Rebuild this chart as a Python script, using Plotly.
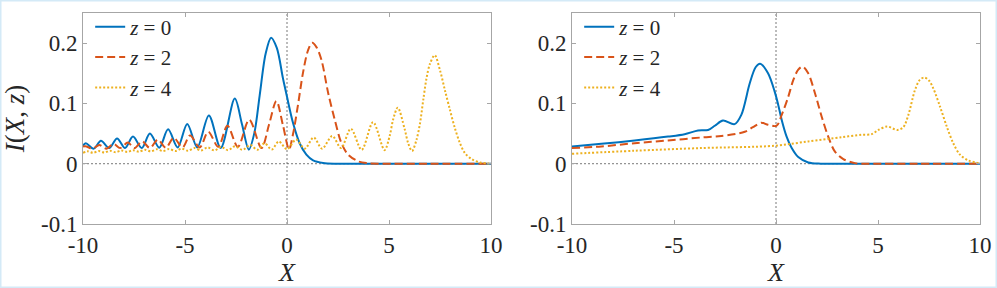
import plotly.graph_objects as go

# ---------------- data ----------------
# Left panel
L_z0_x = [-10.0, -9.86, -9.48, -9.12, -8.72, -8.33, -7.94, -7.55, -7.12, -6.72, -6.26, -5.83,
          -5.36, -4.89, -4.40, -3.83, -3.25, -2.56, -2.21, -1.87, -1.60, -1.34, -1.05, -0.78,
          -0.50, -0.20, 0.0, 0.30, 0.62, 0.95, 1.28, 1.77, 2.4, 3.5, 6.0, 10.0]
L_z0_y = [0.030, 0.034, 0.025, 0.038, 0.026, 0.042, 0.026, 0.045, 0.026, 0.050, 0.0265, 0.057,
          0.027, 0.066, 0.027, 0.080, 0.026, 0.108, 0.066, 0.0235, 0.051, 0.113, 0.182, 0.209,
          0.192, 0.142, 0.111, 0.067, 0.034, 0.015, 0.0055, 0.0012, 0.0, 0.0, 0.0, 0.0]

L_z2_x = [-10.0, -9.88, -9.52, -9.2, -8.85, -8.5, -8.18, -7.8, -7.48, -7.1, -6.72, -6.33,
          -5.94, -5.55, -5.12, -4.75, -4.28, -3.86, -3.37, -2.92, -2.41, -1.85, -1.25, -0.88,
          -0.52, -0.20, 0.10, 0.30, 0.54, 0.79, 1.03, 1.23, 1.45, 1.69, 2.02, 2.34, 2.67,
          3.00, 3.49, 3.90, 4.6, 7.0, 10.0]
L_z2_y = [0.0285, 0.029, 0.025, 0.031, 0.025, 0.033, 0.026, 0.035, 0.026, 0.037, 0.026, 0.040,
          0.0265, 0.043, 0.027, 0.047, 0.027, 0.053, 0.028, 0.063, 0.028, 0.073, 0.026, 0.065,
          0.104, 0.064, 0.024, 0.050, 0.098, 0.152, 0.188, 0.2005, 0.193, 0.172, 0.117, 0.073, 0.034,
          0.015, 0.004, 0.001, 0.0, 0.0, 0.0]

L_z4_x = [-10.0, -9.77, -9.5, -9.23, -8.95, -8.68, -8.4, -8.12, -7.83, -7.55, -7.26, -6.97,
          -6.67, -6.38, -6.08, -5.78, -5.47, -5.16, -4.85, -4.53, -4.21, -3.89, -3.56, -3.23,
          -2.89, -2.55, -2.18, -1.80, -1.45, -1.10, -0.75, -0.40, 0.0, 0.45, 0.87, 1.31, 1.72,
          2.22, 2.65, 3.13, 3.66, 4.22, 4.78, 5.04, 5.20, 5.43, 5.77, 5.94, 6.13, 6.35, 6.52,
          6.68, 6.84, 7.01, 7.24, 7.50, 7.74, 7.99, 8.23, 8.48, 8.72, 9.05, 9.46, 9.8, 10.0]
L_z4_y = [0.018, 0.0205, 0.018, 0.021, 0.0185, 0.0215, 0.019, 0.022, 0.0195, 0.0225, 0.020, 0.023,
          0.0205, 0.024, 0.021, 0.0245, 0.021, 0.025, 0.0215, 0.026, 0.022, 0.027, 0.022, 0.028,
          0.0225, 0.029, 0.023, 0.031, 0.023, 0.034, 0.0235, 0.037, 0.024, 0.040, 0.025, 0.0435, 0.025,
          0.046, 0.026, 0.058, 0.023, 0.069, 0.0225, 0.047, 0.073, 0.093, 0.057, 0.034, 0.021, 0.040, 0.067,
          0.106, 0.142, 0.166, 0.180, 0.155, 0.122, 0.089, 0.059, 0.034, 0.0176, 0.0077, 0.002, 0.0005, 0.0]

# Right panel
R_z0_x = [-10.0, -8.56, -6.93, -5.29, -4.48, -3.82, -3.33, -3.0, -2.60, -2.03, -1.70, -1.29, -1.0,
          -0.78, -0.39, -0.05, 0.11, 0.28, 0.52, 0.77, 1.09, 1.58, 2.2, 3.5, 6.0, 10.0]
R_z0_y = [0.0286, 0.033, 0.0385, 0.045, 0.049, 0.055, 0.056, 0.063, 0.0716, 0.0656, 0.081, 0.133, 0.160,
          0.166, 0.150, 0.118, 0.0975, 0.0727, 0.045, 0.026, 0.011, 0.002, 0.0, 0.0, 0.0, 0.0]

R_z2_x = [-10.0, -8.56, -6.93, -5.29, -3.66, -2.68, -1.53, -1.13, -0.72, -0.39, 0.03, 0.28, 0.60,
          0.85, 1.09, 1.30, 1.58, 1.91, 2.24, 2.56, 2.89, 3.30, 3.87, 4.6, 7.0, 10.0]
R_z2_y = [0.026, 0.0286, 0.034, 0.0385, 0.0435, 0.046, 0.053, 0.0606, 0.068, 0.0645, 0.063, 0.081, 0.111,
          0.139, 0.156, 0.161, 0.150, 0.117, 0.078, 0.045, 0.020, 0.0077, 0.001, 0.0, 0.0, 0.0]

R_z4_x = [-10.0, -6.93, -3.66, -0.05, 1.58, 3.22, 4.20, 4.69, 5.02, 5.45, 5.95, 6.24, 6.49,
          6.81, 7.05, 7.27, 7.50, 7.71, 8.04, 8.37, 8.69, 9.02, 9.43, 9.92, 10.0]
R_z4_y = [0.0165, 0.0215, 0.026, 0.0298, 0.037, 0.044, 0.048, 0.049, 0.056, 0.0617, 0.056, 0.0606, 0.081,
          0.122, 0.139, 0.143, 0.138, 0.125, 0.0948, 0.0617, 0.034, 0.015, 0.0055, 0.001, 0.0005]

series_names = ["<i>z</i> = 0", "<i>z</i> = 2", "<i>z</i> = 4"]
x_ticks = [-10, -5, 0, 5, 10]
x_ticktext = ["-10", "-5", "0", "5", "10"]
y_ticks = [-0.1, 0, 0.1, 0.2]
y_ticktext = ["-0.1", "0", "0.1", "0.2"]

# ---------------- styling ----------------
COLORS = ["#0072BD", "#D95319", "#EDB120"]
DASHES = ["solid", "8px,4px", "2px,2px"]
WIDTHS = [2.0, 2.0, 2.0]
FONT = "Liberation Serif"
TXT = "#262626"
AX = "#a6a6a6"

W, H = 997, 288
ML, MR, MT, MB = 83, 17, 13, 64
PW, PH = W - ML - MR, H - MT - MB

fig = go.Figure()

panels = [
    ("x", "y", "legend", [(L_z0_x, L_z0_y), (L_z2_x, L_z2_y), (L_z4_x, L_z4_y)]),
    ("x2", "y2", "legend2", [(R_z0_x, R_z0_y), (R_z2_x, R_z2_y), (R_z4_x, R_z4_y)]),
]
for xa, ya, lg, data in panels:
    for i, (xs, ys) in enumerate(data):
        fig.add_trace(go.Scatter(
            x=xs, y=ys, mode="lines", name=series_names[i],
            line=dict(color=COLORS[i], width=WIDTHS[i], dash=DASHES[i], shape="spline", smoothing=0.9),
            xaxis=xa, yaxis=ya, legend=lg, hoverinfo="skip"))


def xstyle(domain, anchor):
    return dict(domain=domain, anchor=anchor, range=[-10, 10], tickmode="array",
                tickvals=x_ticks, ticktext=x_ticktext, showline=True, mirror="ticks",
                linecolor=AX, linewidth=1, ticks="inside", ticklen=4, tickcolor=AX,
                showgrid=False, zeroline=False, automargin=False,
                tickfont=dict(family=FONT, size=23, color=TXT),
                title=dict(text="<i>X</i>", font=dict(family=FONT, size=26, color=TXT), standoff=6))


def ystyle(anchor, title):
    d = dict(domain=[0, 1], anchor=anchor, range=[-0.1, 0.25], tickmode="array",
             tickvals=y_ticks, ticktext=y_ticktext, showline=True, mirror="ticks",
             linecolor=AX, linewidth=1, ticks="inside", ticklen=4, tickcolor=AX,
             showgrid=False, zeroline=False, automargin=False,
             tickfont=dict(family=FONT, size=23, color=TXT))
    if title:
        d["title"] = dict(text="<i>I</i>(<i>X</i>, <i>z</i>)", font=dict(family=FONT, size=27, color=TXT),
                          standoff=14)
    return d


left_end = (491 - ML) / PW
right_start = (572 - ML) / PW

legend_common = dict(xanchor="left", yanchor="top", bgcolor="rgba(0,0,0,0)",
                     font=dict(family=FONT, size=21, color=TXT), tracegroupgap=0, itemwidth=30)

fig.update_layout(
    width=W, height=H,
    margin=dict(l=ML, r=MR, t=MT, b=MB, pad=0, autoexpand=False),
    paper_bgcolor="white", plot_bgcolor="white",
    font=dict(family=FONT, color=TXT),
    xaxis=xstyle([0, left_end], "y"),
    yaxis=ystyle("x", True),
    xaxis2=xstyle([right_start, 1], "y2"),
    yaxis2=ystyle("x2", False),
    legend=dict(x=0.008, y=1.03, **legend_common),
    legend2=dict(x=right_start + 0.008, y=1.03, **legend_common),
    showlegend=True,
)

# dashed reference lines at X = 0 and I = 0 in both panels
for xa, ya in [("x", "y"), ("x2", "y2")]:
    fig.add_shape(type="line", xref=xa, yref=ya + " domain", x0=0, x1=0, y0=0, y1=1,
                  line=dict(color="#555555", width=0.8, dash="2px,2px"), layer="below")
    fig.add_shape(type="line", xref=xa + " domain", yref=ya, x0=0, x1=1, y0=0, y1=0,
                  line=dict(color="#555555", width=0.8, dash="2px,2px"), layer="below")

# light blue frame around the whole picture
fig.add_shape(type="rect", xref="paper", yref="paper",
              x0=(0.75 - ML) / PW, x1=(W - 0.75 - ML) / PW,
              y0=(H - MB - (H - 0.75)) / PH, y1=(H - MB - 0.75) / PH,
              line=dict(color="#d4eaf7", width=1.5), layer="above")

fig.write_html("out.html", config={"displayModeBar": False},
               post_script="document.body.style.margin='0';document.body.style.padding='0';")
